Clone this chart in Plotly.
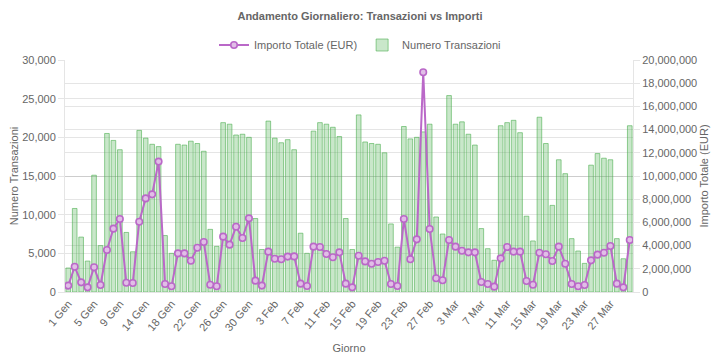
import plotly.graph_objects as go

# ---- data ----
giorni_gen = [1, 2, 3, 4, 5, 6, 7, 8, 9, 10, 11, 12, 14, 15, 16, 17, 18, 19, 20, 21, 22, 23, 24, 25, 26, 27, 28, 29, 30, 31]
giorni_feb = list(range(1, 29))
giorni_mar = list(range(1, 31))
categories = ([f"{d} Gen" for d in giorni_gen] + [f"{d} Feb" for d in giorni_feb]
              + [f"{d} Mar" for d in giorni_mar])

numero_transazioni = [
    3100, 10800, 7100, 4000, 15100, 6000, 20500, 19600, 18400, 7700,
    5200, 20900, 19900, 19100, 18800, 7300, 5000, 19100, 19000, 19500,
    19200, 18200, 8100, 5900, 21900, 21700, 20300, 20400, 20000, 9500,
    5500, 22100, 19900, 19300, 19700, 18400, 7600, 5000, 20800, 21900,
    21700, 21300, 20100, 9500, 5500, 22900, 19400, 19200, 19100, 18000,
    8800, 5800, 21400, 19800, 20000, 20700, 21700, 9700, 7500, 25400,
    21700, 22000, 20400, 19000, 8200, 5600, 4100, 21500, 21900, 22200,
    20600, 9800, 6600, 22600, 19200, 11200, 17100, 15300, 6900, 5300,
    3700, 16400, 17900, 17300, 17100, 6900, 4300, 21500,
]

importo_totale = [
    550000, 2180000, 830000, 400000, 2130000, 600000, 3620000, 5460000, 6290000, 800000,
    780000, 6060000, 8070000, 8420000, 11240000, 690000, 490000, 3330000, 3330000, 2700000,
    3820000, 4310000, 630000, 490000, 4770000, 4080000, 5630000, 4660000, 6350000, 980000,
    550000, 3480000, 2870000, 2820000, 3050000, 3070000, 720000, 520000, 3910000, 3880000,
    3280000, 2990000, 3420000, 720000, 400000, 3130000, 2640000, 2440000, 2590000, 2700000,
    690000, 520000, 6290000, 2820000, 4540000, 18940000, 5430000, 1180000, 1010000, 4480000,
    3910000, 3560000, 3420000, 3420000, 860000, 690000, 460000, 2900000, 3880000, 3480000,
    3480000, 950000, 630000, 3390000, 3250000, 2670000, 3910000, 2440000, 690000, 490000,
    600000, 2730000, 3220000, 3390000, 3970000, 720000, 400000, 4480000,
]

label_step = 4
tick_labels = categories[::label_step]
grid_positions = list(range(label_step // 2, len(categories), label_step))

# ---- style ----
FONT = "Liberation Sans, Arial, Helvetica, sans-serif"
FS = 11
TXT = "#666666"
GRID = "rgba(0,0,0,0.1)"
GREEN_FILL = "rgba(76,175,80,0.3)"
GREEN_LINE = "rgba(76,175,80,0.6)"
PURPLE = "rgb(186,104,200)"
PURPLE_FILL = "rgb(225,190,231)"

# the page body has an 8px margin; size the figure so it fits the 720x360 window
W, H = 712, 352

fig = go.Figure()

fig.add_trace(go.Scatter(
    x=categories, y=importo_totale, name="Importo Totale (EUR)",
    mode="lines+markers", yaxis="y2",
    line=dict(color=PURPLE, width=2),
    marker=dict(size=6.5, color=PURPLE_FILL, line=dict(color=PURPLE, width=1.6)),
))

fig.add_trace(go.Bar(
    x=categories, y=numero_transazioni, name="Numero Transazioni",
    marker=dict(color=GREEN_FILL, line=dict(color=GREEN_LINE, width=1)),
))

n = len(categories)
fig.update_layout(
    width=W, height=H,
    margin=dict(l=57, r=87, t=52, b=68),
    paper_bgcolor="white", plot_bgcolor="white",
    font=dict(family=FONT, size=FS, color=TXT),
    bargap=0.28, barmode="overlay",
    title=dict(text="<b>Andamento Giornaliero: Transazioni vs Importi</b>",
               x=(360 - 8) / W, xref="container", xanchor="center",
               y=1 - 8 / H, yref="container", yanchor="middle",
               font=dict(size=FS, color=TXT, family=FONT)),
    legend=dict(orientation="h", x=(360 - 8) / W, xanchor="center", xref="container",
                y=1 - 37 / H, yref="container", yanchor="middle",
                font=dict(size=FS, color=TXT), bgcolor="rgba(0,0,0,0)"),
    xaxis=dict(type="category", categoryorder="array", categoryarray=categories,
               range=[-0.5, n - 0.5],
               tickmode="array", tickvals=tick_labels, ticktext=tick_labels,
               tickangle=-50, showgrid=False, ticks="",
               showline=True, linecolor=GRID, linewidth=1,
               tickfont=dict(size=FS, color=TXT), automargin=False,
               title=dict(text="Giorno", font=dict(size=FS, color=TXT), standoff=12)),
    xaxis2=dict(overlaying="x", anchor="y", side="bottom", range=[-0.5, n - 0.5],
                tickmode="array", tickvals=grid_positions, showticklabels=False,
                showgrid=True, gridcolor=GRID, gridwidth=1,
                ticks="outside", ticklen=8, tickcolor=GRID, showline=False,
                zeroline=False),
    yaxis=dict(range=[0, 30000], dtick=5000, tickformat=",",
               showgrid=True, gridcolor=GRID, zeroline=False,
               showline=True, linecolor=GRID, ticks="outside", ticklen=6, tickcolor=GRID,
               tickfont=dict(size=FS, color=TXT), automargin=False,
               title=dict(text="Numero Transazioni", font=dict(size=FS, color=TXT), standoff=6)),
    yaxis2=dict(overlaying="y", side="right", anchor="x", range=[0, 20000000], dtick=2000000,
                tickformat=",", showgrid=True, gridcolor=GRID, zeroline=False,
                showline=True, linecolor=GRID, ticks="outside", ticklen=6, tickcolor=GRID,
                tickfont=dict(size=FS, color=TXT), automargin=False,
                title=dict(text="Importo Totale (EUR)", font=dict(size=FS, color=TXT), standoff=4)),
)

fig.write_html("out.html")
